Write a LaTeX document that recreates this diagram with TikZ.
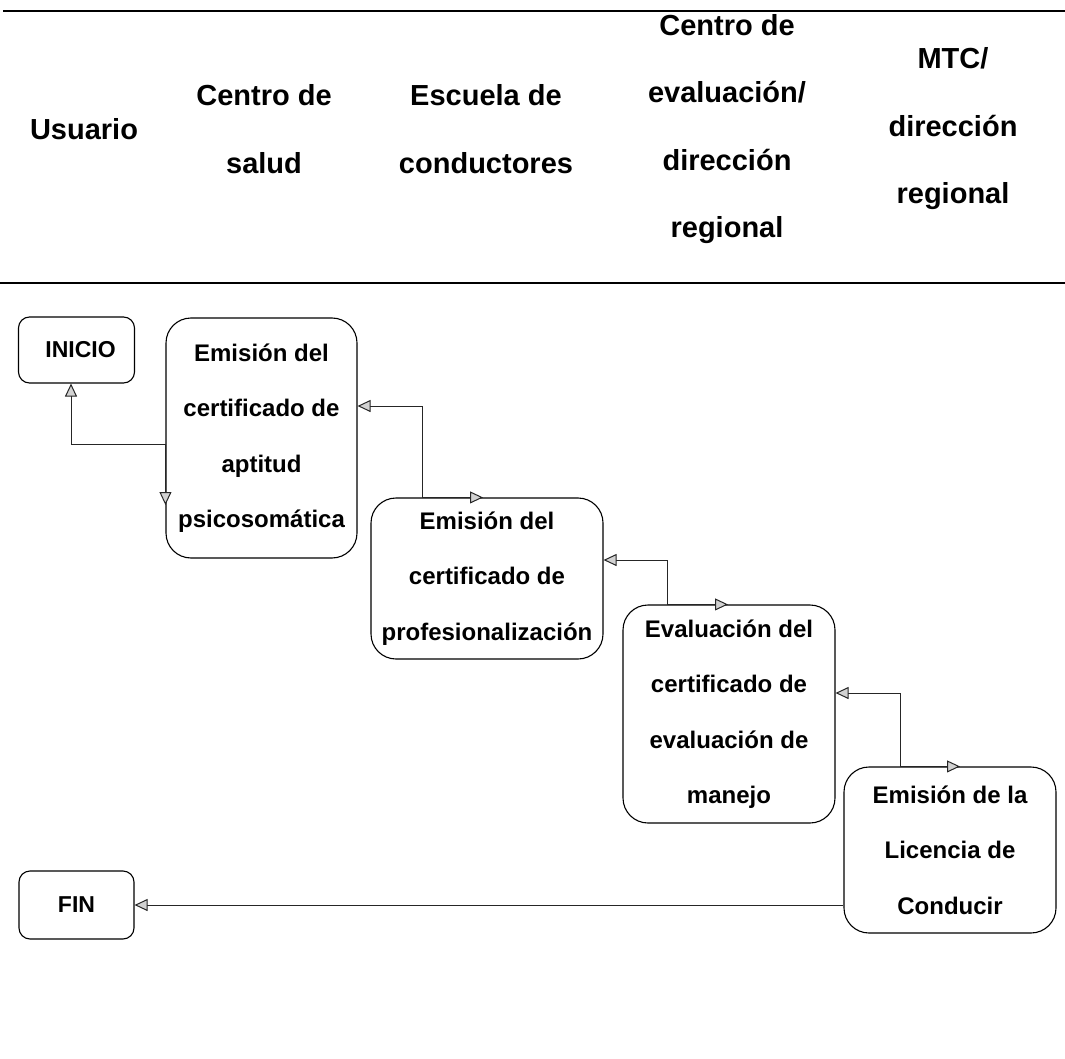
\documentclass[tikz,border=0pt]{standalone}
\usepackage{fontspec}
\setmainfont{Liberation Sans}
\usetikzlibrary{arrows.meta,positioning}

\begin{document}
\begin{tikzpicture}[x=1pt,y=-1pt]
	\tikzstyle{terminal} = [rectangle, rounded corners=11pt, minimum width=116pt,
	minimum height=66pt, text centered, draw=black, line width=1.1pt, font=\fontsize{23}{27}\selectfont\bfseries]
	\tikzstyle{activity} = [rectangle, rounded corners=25pt, align=center, inner sep=0pt,
	draw=black, line width=1.1pt, font=\fontsize{24}{55.5}\selectfont\bfseries]
	\tikzstyle{lane} = [align=center, font=\fontsize{29}{67.5}\selectfont\bfseries]
	\tikzstyle{arrow} = [line width=1pt, draw=black!85, {Triangle[length=13pt, width=12pt, fill=gray!35]}-]
	\tikzstyle{twoway} = [line width=1pt, draw=black!85,
	{Triangle[length=13pt, width=12pt, fill=gray!35]}-{Triangle[length=13pt, width=12pt, fill=gray!35]}]
	\useasboundingbox (0,0) rectangle (1065,1059);
	% lanes
	\draw [line width=1.5pt] (3,11) -- (1065,11);
	\draw [line width=1.5pt] (0,283) -- (1065,283);
	\node (usuario) [lane] at (84,129) {Usuario};
	\node (centroSalud) [lane] at (264,129) {Centro de\\salud};
	\node (escuela) [lane] at (486,129) {Escuela de\\conductores};
	\node (centroEvaluacion) [lane] at (727,129) {Centro de\\evaluación/\\dirección\\regional};
	\node (mtc) [lane] at (953,129) {MTC/\\dirección\\regional};
	% process
	\node (inicio) [terminal] at (76.5,350) {\hspace*{8pt}INICIO};
	\node (aptitud) [activity, minimum width=191pt, minimum height=240pt] at (261.5,438)
		{Emisión del\\certificado de\\aptitud\\psicosomática};
	\node (profesional) [activity, minimum width=232pt, minimum height=161pt] at (487,578.5)
		{Emisión del\\certificado de\\profesionalización};
	\node (manejo) [activity, minimum width=212pt, minimum height=218pt] at (729,714)
		{Evaluación del\\certificado de\\evaluación de\\manejo};
	\node (licencia) [activity, minimum width=212pt, minimum height=166pt] at (950,850)
		{Emisión de la\\Licencia de\\Conducir};
	\node (fin) [terminal, minimum width=115pt, minimum height=68pt] at (76.5,905) {FIN};
	\draw [twoway] ([xshift=-5.5pt]inicio.south) |- ([yshift=-6pt]aptitud.west) -- ([yshift=-67pt]aptitud.west);
	\draw [twoway] ([yshift=32pt]aptitud.east) -| ([xshift=-65pt]profesional.north) -- ([xshift=-4pt]profesional.north);
	\draw [twoway] ([yshift=18.5pt]profesional.east) -| ([xshift=-62pt]manejo.north) -- ([xshift=-1pt]manejo.north);
	\draw [twoway] ([yshift=21pt]manejo.east) -| ([xshift=-50pt]licencia.north) -- ([xshift=10pt]licencia.north);
	\draw [arrow] (fin.east) -- (licencia.west |- fin.east);
\end{tikzpicture}
\end{document}
